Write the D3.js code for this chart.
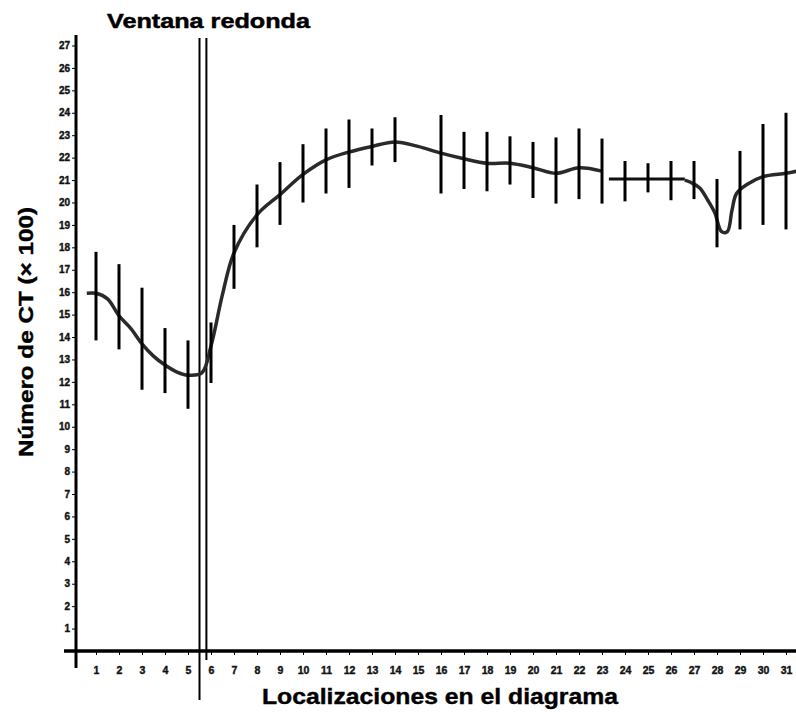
<!DOCTYPE html>
<html>
<head>
<meta charset="utf-8">
<script src="https://cdn.jsdelivr.net/npm/d3@7"></script>
<style>
    body { margin: 0; background: #fff; }
    svg { display: block; font-family: "Liberation Sans", Arial, Helvetica, sans-serif; font-weight: bold; }
</style>
</head>
<body>
<svg id="chart" width="796" height="714"></svg>
<script>

// tick labels
var locations = [1, 2, 3, 4, 5, 6, 7, 8, 9, 10, 11, 12, 13, 14, 15, 16,
                 17, 18, 19, 20, 21, 22, 23, 24, 25, 26, 27, 28, 29, 30, 31];
var ctTicks = [1, 2, 3, 4, 5, 6, 7, 8, 9, 10, 11, 12, 13, 14, 15, 16,
               17, 18, 19, 20, 21, 22, 23, 24, 25, 26, 27];

// error bars per location, CT number x100 (no bar at 15)
var errHigh = [17.8, 17.25, 16.2, 14.4, 13.85, 14.65, 19.0, 20.8, 21.8, 22.6, 23.3,
               23.7, 23.3, 23.8, null, 23.9, 23.15, 23.15, 22.95, 22.7, 22.9, 23.3,
               22.85, 21.85, 21.75, 21.85, 21.85, 21.05, 22.3, 23.5, 24.0];
var errLow = [13.85, 13.45, 11.65, 11.5, 10.8, 11.95, 16.15, 18.0, 19.0, 20.0, 20.4,
              20.65, 21.65, 21.8, null, 20.4, 20.6, 20.5, 20.8, 20.2, 19.95, 20.15,
              19.95, 20.05, 20.45, 20.1, 20.15, 18.0, 18.8, 19.0, 18.8];

// trend curve (null = break in the curve)
var trendLoc = [0.6, 1, 1.5, 2, 2.5, 3, 3.5, 4, 4.5, 5, 5.6, 6, 6.5, 7, 8, 9, 10,
                11, 12, 13, 14, 15, 16, 17, 18, 19, 20, 21, 22, 23, null,
                26.6, 26.85, 27.25, 27.6, 27.9, 28.2, 28.45, 28.65, 28.85, 29.3,
                30, 31, 31.5];
var trendCT = [15.95, 15.95, 15.7, 14.95, 14.4, 13.7, 13.15, 12.75, 12.45, 12.3,
               12.4, 13.6, 15.9, 17.75, 19.45, 20.35, 21.25, 21.9, 22.25, 22.5,
               22.7, 22.5, 22.2, 21.95, 21.75, 21.75, 21.55, 21.3, 21.55, 21.4, null,
               21.0, 20.9, 20.65, 20.1, 19.55, 18.7, 18.7, 19.65, 20.4, 20.8,
               21.15, 21.3, 21.4];

// straight piece drawn across 24-27
var flatLoc = [23.3, 26.6];
var flatCT = [21.05, 21.05];

// "Ventana redonda" marker lines
var windowLoc = [5.5, 5.8];

var title = "Ventana redonda";
var xLabel = "Localizaciones en el diagrama";
var yLabel = "Número de CT (× 100)";


var svg = d3.select("#chart");

var x = d3.scaleLinear()
    .domain([0, 31])
    .range([73, 786]);

var y = d3.scaleLinear()
    .domain([0, 27])
    .range([651, 45.5]);

function translate(a, b) {
    return "translate(" + a + "," + b + ")";
}

// axes lines
svg.append("line")
    .attr("x1", 64).attr("x2", 796)
    .attr("y1", y(0)).attr("y2", y(0))
    .attr("stroke", "#000")
    .attr("stroke-width", 3.5);

svg.append("line")
    .attr("x1", 76).attr("x2", 76)
    .attr("y1", 35).attr("y2", 668)
    .attr("stroke", "#000")
    .attr("stroke-width", 3);

// y ticks
var yAxis = svg.append("g")
    .attr("transform", translate(76, 0))
    .call(d3.axisLeft(y).tickValues(ctTicks).tickSize(4).tickPadding(2));
yAxis.select(".domain").remove();
yAxis.selectAll("text")
    .style("font-size", "10px")
    .style("font-weight", "bold")
    .attr("fill", "#111")
    .attr("stroke", "#111")
    .attr("stroke-width", 0.4);

// x ticks
var xAxis = svg.append("g")
    .attr("transform", translate(0, y(0)))
    .call(d3.axisBottom(x).tickValues(locations).tickSize(4).tickPadding(12));
xAxis.select(".domain").remove();
xAxis.selectAll("text")
    .style("font-size", "10.5px")
    .style("font-weight", "bold")
    .attr("fill", "#111")
    .attr("stroke", "#111")
    .attr("stroke-width", 0.4);

// window marker lines
svg.selectAll(".window")
    .data(windowLoc)
  .enter().append("line")
    .attr("class", "window")
    .attr("x1", d => x(d)).attr("x2", d => x(d))
    .attr("y1", 38)
    .attr("y2", (d, i) => i == 0 ? 700 : 660)
    .attr("stroke", "#000")
    .attr("stroke-width", 2);

// trend curve
var trend = trendLoc.map((d, i) => ({ loc: d, ct: trendCT[i] }));

var line = d3.line()
    .defined(d => d.loc != null)
    .x(d => x(d.loc))
    .y(d => y(d.ct))
    .curve(d3.curveCatmullRom.alpha(0.5));

svg.append("path")
    .datum(trend)
    .attr("fill", "none")
    .attr("stroke", "#2a2a2a")
    .attr("stroke-width", 3.5)
    .attr("stroke-linejoin", "round")
    .attr("d", line);

svg.append("path")
    .datum(flatLoc.map((d, i) => ({ loc: d, ct: flatCT[i] })))
    .attr("fill", "none")
    .attr("stroke", "#111")
    .attr("stroke-width", 3)
    .attr("d", d3.line().x(d => x(d.loc)).y(d => y(d.ct)));

// error bars
var bars = locations
    .map((d, i) => ({ loc: d, hi: errHigh[i], lo: errLow[i] }))
    .filter(d => d.hi != null);

svg.selectAll(".err")
    .data(bars)
  .enter().append("line")
    .attr("class", "err")
    .attr("x1", d => x(d.loc)).attr("x2", d => x(d.loc))
    .attr("y1", d => y(d.hi)).attr("y2", d => y(d.lo))
    .attr("stroke", "#000")
    .attr("stroke-width", 3);

// labels
svg.append("text")
    .attr("x", 107).attr("y", 28)
    .attr("textLength", 203)
    .attr("lengthAdjust", "spacingAndGlyphs")
    .attr("stroke", "#000")
    .attr("stroke-width", 0.5)
    .style("font-size", "21px")
    .text(title);

svg.append("text")
    .attr("x", 262).attr("y", 704)
    .attr("textLength", 356)
    .attr("lengthAdjust", "spacingAndGlyphs")
    .attr("stroke", "#000")
    .attr("stroke-width", 0.4)
    .style("font-size", "22px")
    .text(xLabel);

svg.append("text")
    .attr("transform", translate(33, 457) + " rotate(-90)")
    .attr("textLength", 250)
    .attr("lengthAdjust", "spacingAndGlyphs")
    .attr("stroke", "#000")
    .attr("stroke-width", 0.4)
    .style("font-size", "21px")
    .text(yLabel);

</script>
</body>
</html>
